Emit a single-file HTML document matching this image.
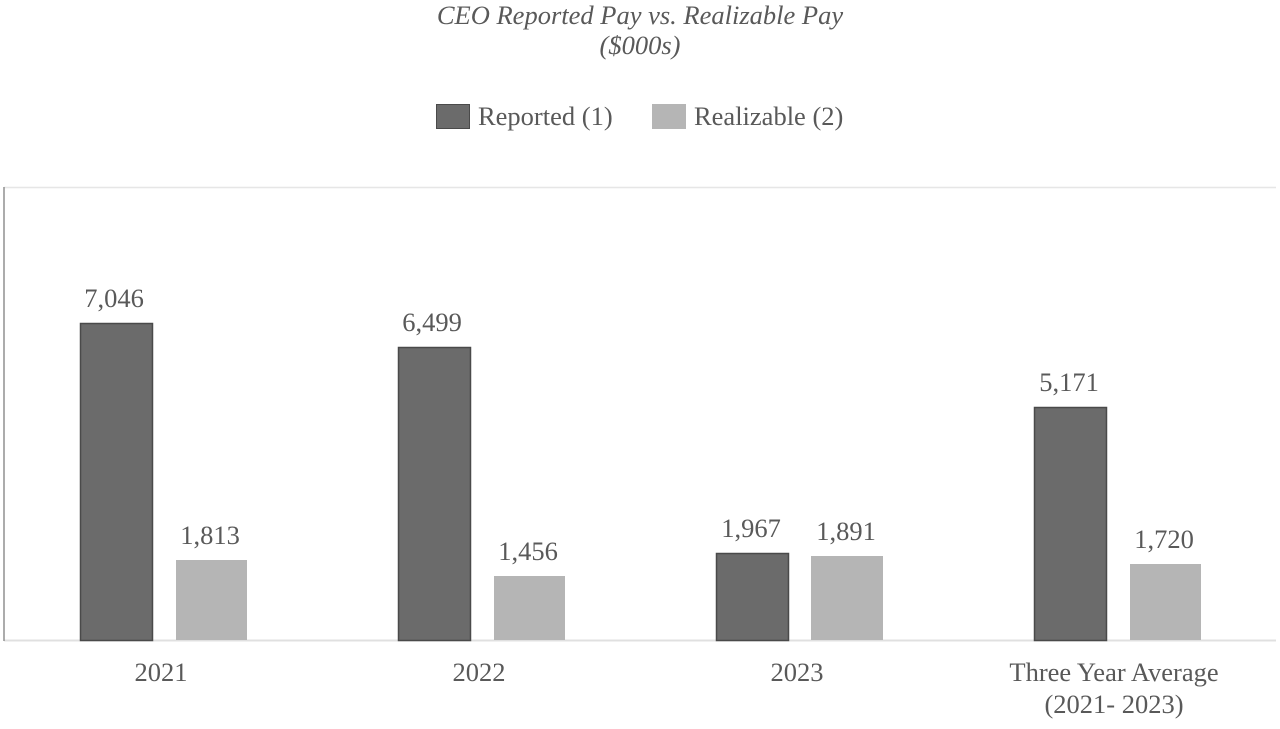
<!DOCTYPE html>
<html><head><style>body{margin:0;background:#fff}</style></head><body>
<svg width="1280" height="724" xmlns="http://www.w3.org/2000/svg" font-family="Liberation Serif, serif" fill="#595959">
<text x="640" y="24" font-size="26.5" font-style="italic" text-anchor="middle">CEO Reported Pay vs. Realizable Pay</text>
<text x="640" y="54" font-size="26.5" font-style="italic" text-anchor="middle">($000s)</text>
<rect x="436.5" y="104.5" width="33" height="24" fill="#6b6b6b" stroke="#4a4a4a"/>
<text x="478" y="125" font-size="26.5">Reported (1)</text>
<rect x="652" y="104" width="34" height="25" fill="#b5b5b5"/>
<text x="694" y="125" font-size="26.5">Realizable (2)</text>
<line x1="4" y1="187.5" x2="1276" y2="187.5" stroke="#e6e6e6" stroke-width="1.5"/>
<line x1="4" y1="640.5" x2="1276" y2="640.5" stroke="#e0e0e0" stroke-width="2"/>
<line x1="4" y1="187" x2="4" y2="641" stroke="#909090" stroke-width="1.5"/>
<g fill="#6b6b6b" stroke="#4a4a4a" stroke-width="1.5">
<rect x="80.5" y="323.5" width="72" height="317"/>
<rect x="398.5" y="347.5" width="72" height="293"/>
<rect x="716.5" y="553.5" width="72" height="87"/>
<rect x="1034.5" y="407.5" width="72" height="233"/>
</g>
<g fill="#b5b5b5">
<rect x="176" y="560" width="71" height="80"/>
<rect x="494" y="576" width="71" height="64"/>
<rect x="811" y="556" width="72" height="84"/>
<rect x="1130" y="564" width="71" height="76"/>
</g>
<g font-size="26.5" text-anchor="middle">
<text x="114" y="307">7,046</text>
<text x="210" y="544">1,813</text>
<text x="432" y="331">6,499</text>
<text x="528" y="560">1,456</text>
<text x="751" y="537">1,967</text>
<text x="846" y="540">1,891</text>
<text x="1069" y="391">5,171</text>
<text x="1164" y="548">1,720</text>
<text x="161" y="681">2021</text>
<text x="479" y="681">2022</text>
<text x="797" y="681">2023</text>
<text x="1114" y="681">Three Year Average</text>
<text x="1114" y="713">(2021- 2023)</text>
</g>
</svg>
</body></html>
